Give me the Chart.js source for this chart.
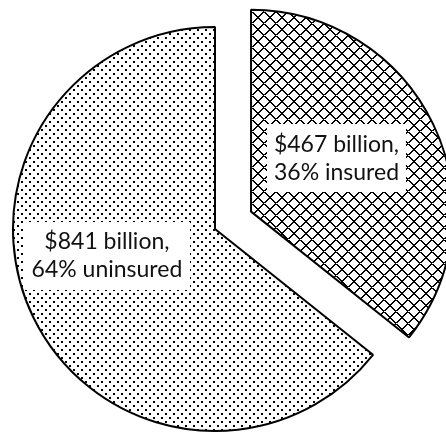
<!DOCTYPE html>
<html lang="en">
<head>
  <meta charset="UTF-8" />
  <title>Deposits: insured vs uninsured</title>
  <script src="https://cdn.jsdelivr.net/npm/chart.js"></script>
  <style>
    * {
      margin: 0;
      padding: 0;
      box-sizing: border-box;
    }

    body {
      background-color: #fff;
    }

    .chart-box {
      width: 446px;
      height: 433px;
    }
  </style>
</head>
<body>

  <div class="chart-box">
    <canvas id="depositChart" width="446" height="433"></canvas>
  </div>

  <script>
    // deposits, $ billion
    const categories = ['insured', 'uninsured'];
    const amounts = [467, 841];

    const total = amounts.reduce((a, b) => a + b, 0);

    // how far each slice is pulled out of the pie (px)
    const explodeBy = [40, 0];
    // label box centre, relative to the slice centre, in units of radius
    const labelAt = [[0.423, -0.265], [-0.535, 0.134]];

    const canvas = document.getElementById('depositChart');
    const ctx = canvas.getContext('2d');

    function dotPattern() {
      const c = document.createElement('canvas');
      c.width = 8;
      c.height = 8;
      const g = c.getContext('2d');
      g.fillStyle = '#fff';
      g.fillRect(0, 0, 8, 8);
      g.fillStyle = '#000';
      g.fillRect(1, 1, 2, 2);
      g.fillRect(5, 5, 2, 2);
      return ctx.createPattern(c, 'repeat');
    }

    function crossPattern() {
      const n = 12;
      const c = document.createElement('canvas');
      c.width = n;
      c.height = n;
      const g = c.getContext('2d');
      g.fillStyle = '#fff';
      g.fillRect(0, 0, n, n);
      g.fillStyle = '#000';
      for (let i = 0; i < n; i++) {
        g.fillRect(i, i, 2, 1);
        g.fillRect((n - 2 - i + n) % n, i, 2, 1);
      }
      return ctx.createPattern(c, 'repeat');
    }

    const explode = {
      id: 'explode',
      afterUpdate(chart) {
        chart.getDatasetMeta(0).data.forEach((arc, i) => {
          const d = explodeBy[i];
          if (!d) return;
          const mid = (arc.startAngle + arc.endAngle) / 2;
          arc.x += Math.cos(mid) * d;
          arc.y += Math.sin(mid) * d;
        });
      }
    };

    const labelBoxes = {
      id: 'labelBoxes',
      afterDatasetsDraw(chart) {
        const c = chart.ctx;
        const lineH = 28;
        c.save();
        c.font = '23px Lato';
        c.textAlign = 'center';
        c.textBaseline = 'middle';
        chart.getDatasetMeta(0).data.forEach((arc, i) => {
          const pct = Math.round(amounts[i] / total * 100);
          const lines = ['$' + amounts[i] + ' billion,', pct + '% ' + categories[i]];
          const cx = arc.x + labelAt[i][0] * arc.outerRadius;
          const cy = arc.y + labelAt[i][1] * arc.outerRadius;
          const w = Math.max(...lines.map(l => c.measureText(l).width)) + 14;
          const h = lines.length * lineH + 12;
          c.fillStyle = '#fff';
          c.fillRect(Math.round(cx - w / 2), Math.round(cy - h / 2), Math.round(w), h);
          c.fillStyle = '#111';
          lines.forEach((l, k) => {
            c.fillText(l, cx, cy + (k - (lines.length - 1) / 2) * lineH);
          });
        });
        c.restore();
      }
    };

    const depositChart = new Chart(ctx, {
      type: 'pie',
      data: {
        labels: categories,
        datasets: [{
          data: amounts,
          backgroundColor: [crossPattern(), dotPattern()],
          borderColor: '#000',
          borderWidth: 2
        }]
      },
      options: {
        responsive: false,
        animation: false,
        events: [],
        radius: 202,
        layout: {
          padding: { top: 25, right: 16, bottom: 0, left: 0 }
        },
        plugins: {
          legend: { display: false },
          tooltip: { enabled: false }
        }
      },
      plugins: [explode, labelBoxes]
    });
  </script>

</body>
</html>
